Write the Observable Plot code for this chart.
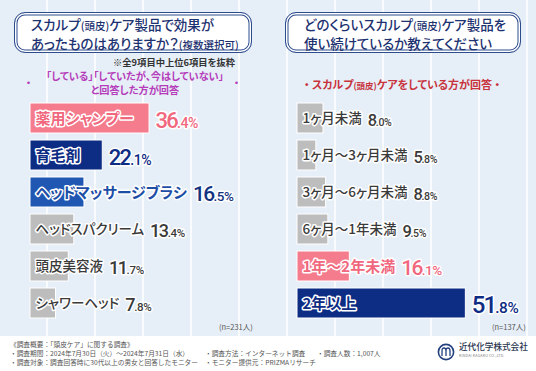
<!DOCTYPE html>
<html><head><meta charset="utf-8">
<script src="https://cdn.jsdelivr.net/npm/d3@7"></script>
<script src="https://cdn.jsdelivr.net/npm/@observablehq/plot@0.6"></script>
<style>
html,body{margin:0;padding:0;background:#e6eef7;}
#root{position:relative;width:536px;height:371px;overflow:hidden;
  background:#e6eef7;
  background-image:repeating-linear-gradient(90deg, rgba(255,255,255,0) 0px, rgba(255,255,255,0) 46px, rgba(255,255,255,.75) 46px, rgba(255,255,255,.75) 48px);
  font-family:"Noto Sans CJK JP","Noto Sans",sans-serif;}
.abs{position:absolute;}
.tbox{position:absolute;box-sizing:border-box;height:41px;background:#fff;border:1.5px solid #2d4c8e;border-radius:11px;
  box-shadow: inset 0 0 0 1.5px #fff, inset 0 0 0 2.5px #2d4c8e;color:#1d3270;font-size:13.5px;font-weight:500;line-height:16.5px;padding-top:3px;
  font-feature-settings:"palt";white-space:nowrap;}
.sm{font-size:10.5px;}
.note{position:absolute;white-space:nowrap;font-feature-settings:"palt";}
svg text{paint-order:stroke;stroke-linejoin:round;font-feature-settings:"palt";}
#footer{position:absolute;left:0;top:336px;width:536px;height:35px;background:#fff;color:#555;font-size:6.7px;line-height:9px;}
#footer div{position:absolute;white-space:nowrap;}
</style></head>
<body>
<div id="root">
  <div class="tbox" style="left:14px;top:12px;width:238px;padding-left:16px;">スカルプ<span class="sm">(頭皮)</span>ケア製品で効果が<br>あったものはありますか？<span class="sm">(複数選択可)</span></div>
  <div class="tbox" style="left:285px;top:12px;width:236px;padding-left:18px;">どのくらいスカルプ<span class="sm">(頭皮)</span>ケア製品を<br>使い続けているか教えてください</div>

  <div class="note" style="left:113px;top:57px;font-size:9.3px;line-height:11px;font-weight:700;color:#333;">※全9項目中上位6項目を抜粋</div>
  <div class="note" style="left:36px;top:69px;width:198px;text-align:center;font-size:10.2px;font-weight:700;color:#b53cba;line-height:13px;">「している」「していたが、今はしていない」</div>
  <div class="note" style="left:36px;top:83.3px;width:198px;text-align:center;font-size:10.2px;font-weight:700;color:#b53cba;line-height:13px;">と回答した方が回答</div>
  <div class="note" style="left:26px;top:77px;font-size:10px;line-height:12px;font-weight:700;color:#b53cba;">・</div>
  <div class="note" style="left:234px;top:77px;font-size:10px;line-height:12px;font-weight:700;color:#b53cba;">・</div>
  <div class="note" style="left:297px;top:78px;width:210px;text-align:center;font-size:11px;line-height:13px;font-weight:700;color:#c8323c;">・&nbsp;スカルプ<span style="font-size:8.5px">(頭皮)</span>ケアをしている方が回答&nbsp;・</div>

  <div id="left" class="abs" style="left:0;top:0;"></div>
  <div id="right" class="abs" style="left:268px;top:0;"></div>

  <div class="note" style="left:219px;top:321px;font-size:7.5px;color:#555;">(n=231人)</div>
  <div class="note" style="left:492px;top:321px;font-size:7.5px;color:#555;">(n=137人)</div>

  <div id="footer">
    <div style="left:10px;top:4px;">《調査概要：「頭皮ケア」に関する調査》</div>
    <div style="left:10px;top:13px;">・調査期間：2024年7月30日（火）～2024年7月31日（水）</div>
    <div style="left:10px;top:22px;">・調査対象：調査回答時に30代以上の男女と回答したモニター</div>
    <div style="left:205px;top:13px;">・調査方法：インターネット調査</div>
    <div style="left:205px;top:22px;">・モニター提供元：PRIZMAリサーチ</div>
    <div style="left:317px;top:13px;">・調査人数：1,007人</div>
    <svg style="position:absolute;left:437px;top:7px;" width="18" height="18" viewBox="0 0 18 18">
      <circle cx="9" cy="9" r="7.6" fill="none" stroke="#23407e" stroke-width="1.6"/>
      <path d="M5 13 V8 Q5 5 7 5 Q9 5 9 8 V13 M9 8 Q9 5 11 5 Q13 5 13 8 V13" fill="none" stroke="#23407e" stroke-width="1.3"/>
    </svg>
    <div style="left:459px;top:5px;font-size:8.6px;line-height:11px;color:#2b3550;font-weight:500;">近代化学株式会社</div>
    <div style="left:459px;top:17px;font-size:3.6px;line-height:5px;color:#777;letter-spacing:0.2px;">KINDAI KAGAKU CO.,LTD.</div>
  </div>
</div>
<script>
// ---- data ----
const leftLabels = ["薬用シャンプー","育毛剤","ヘッドマッサージブラシ","ヘッドスパクリーム","頭皮美容液","シャワーヘッド"];
const leftValues = [36.4, 22.1, 16.5, 13.4, 11.7, 7.8];
const rightLabels = ["1ヶ月未満","1ヶ月～3ヶ月未満","3ヶ月～6ヶ月未満","6ヶ月～1年未満","1年～2年未満","2年以上"];
const rightValues = [8.0, 5.8, 8.8, 9.5, 16.1, 51.8];
// ---- styles ----
const leftTones = ["pink","navy","blue","gray","gray","gray"];
const rightTones = ["gray","gray","gray","gray","pink","navy"];
const palette = {
  pink: {bar:"#f57c8d", text:"#f0677e", value:"#f0677e", weight:700, size:15, vsize:22},
  navy: {bar:"#0d2c84", text:"#0d2c84", value:"#0d2c84", weight:700, size:15, vsize:22},
  blue: {bar:"#1f57b3", text:"#1d4ea6", value:"#14337f", weight:700, size:15, vsize:21},
  gray: {bar:"#bdbdbd", text:"#3a3a3a", value:"#3a3a3a", weight:500, size:13.5, vsize:18}
};
const CJK = '"Noto Sans CJK JP", "Noto Sans", sans-serif';
const NUM = 'Roboto, "Noto Sans", sans-serif';

// hidden measuring svg
const ms = d3.select("body").append("svg").attr("width",10).attr("height",10).style("position","absolute").style("left","-999px");
function measure(str, size, weight){
  const t = ms.append("text").attr("font-family", CJK).attr("font-size", size).attr("font-weight", weight)
    .style("font-feature-settings", '"palt"').text(str);
  const w = t.node().getComputedTextLength(); t.remove(); return w;
}

function panel(labels, values, tones, opt){
  const data = labels.map((label,i)=>({label, value: values[i], tone: tones[i]}));
  const px = opt.px; // pixels per percent
  data.forEach(d=>{
    const st = palette[d.tone];
    d.w = measure(d.label, st.size, st.weight);
    d.vx = Math.max(d.value, (opt.pad + d.w)/px);
    d.vsize = (opt.graySize && d.tone==="gray") ? opt.graySize : (opt.sizes && opt.sizes[d.tone]) || st.vsize;
  });
  const used = [...new Set(tones)];
  const marks = [
    Plot.barX(data, {x:"value", y:"label", fill:"label", stroke:"#fff", strokeWidth:1}),
    ...used.map(t => Plot.text(data, {filter:d=>d.tone===t, x:0, y:"label", text:"label", dx:opt.pad, dy:0.5,
      textAnchor:"start", fill:palette[t].text, stroke:"#fff", strokeWidth:3, fontSize:palette[t].size,
      fontWeight:palette[t].weight, fontFamily:CJK})),
    ...used.map(t => Plot.text(data, {filter:d=>d.tone===t, x:"vx", y:"label", text:d=>d.value.toFixed(1)+"%",
      dx:6, dy:2, textAnchor:"start", fill:palette[t].value, stroke:"#fff", strokeWidth:3,
      fontSize:d=>d.vsize, fontWeight:500, fontFamily:NUM, ariaDescription:"pct"}))
  ];
  const chart = Plot.plot({
    width:268, height:371, margin:0,
    x:{domain:[0,100], range:[opt.x0, opt.x0 + 100*px], axis:null},
    y:{domain:labels, range:[99.5, 321.5], paddingInner:0.19, paddingOuter:0.095, axis:null},
    color:{domain:labels, range:data.map(d=>palette[d.tone].bar)},
    style:{background:"transparent", overflow:"visible"},
    marks
  });
  d3.select(chart).selectAll("text").each(function(){
    const s = this.textContent;
    const m = s.match(/^(\d+)(\.\d%)$/);
    if(!m) return;
    const el = d3.select(this);
    el.text(null).style("letter-spacing","-0.08em");
    el.append("tspan").text(m[1]);
    el.append("tspan").style("font-size","0.64em").style("letter-spacing","-0.03em").text(m[2]);
  });
  return chart;
}

document.getElementById("left").append(panel(leftLabels, leftValues, leftTones, {x0:30, px:3.27, pad:5}));
document.getElementById("right").append(panel(rightLabels, rightValues, rightTones, {x0:29, px:3.25, pad:5, graySize:16.5, sizes:{navy:24, pink:21}}));
</script>
</body></html>
